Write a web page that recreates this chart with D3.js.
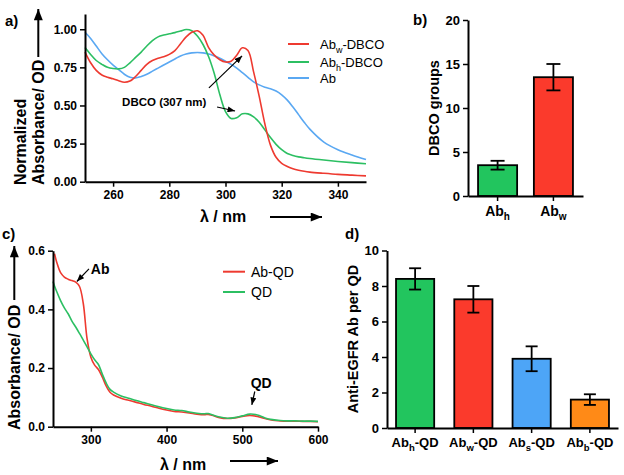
<!DOCTYPE html>
<html>
<head>
<meta charset="utf-8">
<script src="https://cdn.jsdelivr.net/npm/d3@7"></script>
<style>
  body { margin: 0; background: #fff; }
  svg { font-family: "Liberation Sans", Arial, sans-serif; }
</style>
</head>
<body>
<div class="canvas"></div>
<script>
// ---- data: panel a (normalized spectra) ----
const nmA = [250,252,254,256,258,260,262,264,266,268,270,272,274,276,278,280,282,284,286,288,290,
  292,294,296,298,300,302,304,306,308,310,312,314,316,318,320,322,324,326,328,330,335,340,345,350];
const abwDbco = [0.85,0.78,0.73,0.70,0.685,0.675,0.662,0.652,0.66,0.69,0.73,0.77,0.795,0.81,0.82,0.835,0.86,0.905,0.95,0.98,0.99,
  0.96,0.88,0.83,0.80,0.785,0.79,0.83,0.878,0.86,0.72,0.56,0.38,0.24,0.16,0.12,0.10,0.085,0.075,0.068,0.063,0.055,0.048,0.043,0.038];
const abhDbco = [0.88,0.835,0.795,0.77,0.75,0.742,0.74,0.75,0.78,0.815,0.85,0.89,0.925,0.95,0.962,0.97,0.978,0.988,0.998,0.99,0.955,
  0.90,0.82,0.71,0.57,0.46,0.415,0.42,0.445,0.445,0.425,0.39,0.34,0.29,0.245,0.21,0.185,0.172,0.163,0.157,0.152,0.142,0.133,0.125,0.118];
const abOnly = [0.98,0.94,0.89,0.84,0.80,0.765,0.735,0.705,0.685,0.68,0.69,0.705,0.725,0.745,0.765,0.785,0.805,0.825,0.838,0.845,0.847,
  0.845,0.838,0.825,0.81,0.79,0.77,0.745,0.715,0.685,0.655,0.635,0.62,0.61,0.595,0.57,0.535,0.49,0.44,0.39,0.345,0.26,0.21,0.175,0.145];
const seriesA = ['Ab_w-DBCO', 'Ab_h-DBCO', 'Ab'];
const ticksAx = [260, 280, 300, 320, 340];
const ticksAy = [0, 0.25, 0.5, 0.75, 1.0];

// ---- data: panel b (DBCO groups) ----
const catsB = ['Ab_h', 'Ab_w'];
const valsB = [3.5, 13.5];
const errB = [0.5, 1.5];
const ticksBy = [0, 5, 10, 15, 20];

// ---- data: panel c (Ab-QD vs QD absorbance) ----
const nmC = [250,252,255,260,265,270,275,280,285,290,295,300,305,310,315,320,325,330,340,350,360,370,380,390,400,
  410,420,430,440,450,455,460,470,480,490,500,510,520,530,540,550,560,570,580,590,600];
const abQd = [null,0.59,0.56,0.525,0.51,0.503,0.498,0.493,0.478,0.42,0.30,0.237,0.21,0.195,0.17,0.14,0.118,0.108,0.097,0.09,0.083,0.076,0.07,0.063,0.057,
  0.052,0.05,0.047,0.043,0.041,0.042,0.039,0.031,0.028,0.03,0.035,0.038,0.035,0.028,0.022,0.02,0.019,0.019,0.018,0.018,0.017];
const qdOnly = [0.495,0.48,0.46,0.43,0.405,0.385,0.36,0.34,0.318,0.295,0.272,0.248,0.228,0.212,0.18,0.15,0.128,0.118,0.105,0.097,0.089,0.082,0.075,0.068,0.062,
  0.057,0.055,0.05,0.046,0.044,0.045,0.041,0.033,0.029,0.031,0.037,0.043,0.04,0.03,0.024,0.021,0.02,0.02,0.019,0.019,0.018];
const seriesC = ['Ab-QD', 'QD'];
const ticksCx = [300, 400, 500, 600];
const ticksCy = [0, 0.2, 0.4, 0.6];

// ---- data: panel d (Ab per QD) ----
const catsD = ['Ab_h-QD', 'Ab_w-QD', 'Ab_s-QD', 'Ab_b-QD'];
const valsD = [8.4, 7.25, 3.9, 1.6];
const errD = [0.6, 0.75, 0.7, 0.3];
const ticksDy = [0, 2, 4, 6, 8, 10];

// colours
const RED = '#ee3a30', GREEN = '#2cbf62', BLUE = '#5aa8f2';
const barColsB = ['#22c55e', '#fb3a2c'];
const barColsD = ['#22c55e', '#fb3a2c', '#4da5f7', '#ff8a17'];

const FONT = '"Liberation Sans", Arial, sans-serif';

const svg = d3.select('.canvas')
  .append('svg')
    .attr('width', 624)
    .attr('height', 475);

svg.append('rect').attr('width', 624).attr('height', 475).attr('fill', '#fff');

// arrow markers
const defs = svg.append('defs');
defs.append('marker')
    .attr('id', 'head')
    .attr('viewBox', '0 -4 10 8')
    .attr('refX', 10).attr('refY', 0)
    .attr('markerUnits', 'userSpaceOnUse')
    .attr('markerWidth', 8).attr('markerHeight', 6)
    .attr('orient', 'auto')
  .append('path').attr('d', 'M0,-4L10,0L0,4Z').attr('fill', '#000');
defs.append('marker')
    .attr('id', 'bighead')
    .attr('viewBox', '0 -4 10 8')
    .attr('refX', 10).attr('refY', 0)
    .attr('markerUnits', 'userSpaceOnUse')
    .attr('markerWidth', 13).attr('markerHeight', 9)
    .attr('orient', 'auto')
  .append('path').attr('d', 'M0,-4L10,0L0,4Z').attr('fill', '#000');

// text with one subscript letter: "Ab_h-QD" -> Ab + sub h + -QD
function subText(sel, str, subSize) {
  const m = str.match(/^([^_]*)_(\w)(.*)$/);
  sel.text(null);
  if (!m) { sel.text(str); return; }
  sel.append('tspan').text(m[1]);
  sel.append('tspan').attr('dy', 4).attr('font-size', subSize).text(m[2]);
  if (m[3]) sel.append('tspan').attr('dy', -4).text(m[3]);
}

function styleAxis(g, size) {
  g.attr('font-family', FONT).attr('font-size', size).attr('font-weight', 'bold');
  g.select('.domain').attr('stroke-width', 2);
  g.selectAll('.tick line').attr('stroke-width', 1.5);
  g.selectAll('.tick text').attr('fill', '#000');
}

function label(x, y, txt, size, weight, anchor) {
  return svg.append('text')
    .attr('x', x).attr('y', y)
    .attr('font-size', size)
    .attr('font-weight', weight || 'bold')
    .attr('text-anchor', anchor || 'start')
    .text(txt);
}

function vLabel(x, y, txt, size, anchor) {
  return svg.append('text')
    .attr('transform', `translate(${x},${y}) rotate(-90)`)
    .attr('font-size', size)
    .attr('font-weight', 'bold')
    .attr('text-anchor', anchor || 'start')
    .text(txt);
}

function arrow(x1, y1, x2, y2, big, w) {
  svg.append('line')
    .attr('x1', x1).attr('y1', y1).attr('x2', x2).attr('y2', y2)
    .attr('stroke', '#000').attr('stroke-width', w || 1.2)
    .attr('marker-end', big ? 'url(#bighead)' : 'url(#head)');
}

// ================= panel a =================
const xA = d3.scaleLinear().domain([250, 350]).range([85, 366]);
const yA = d3.scaleLinear().domain([0, 1.1]).range([181.7, 14]);

const lineA = d3.line()
  .x((d, i) => xA(nmA[i]))
  .y(d => yA(d))
  .curve(d3.curveCatmullRom.alpha(0.5));

[[abOnly, BLUE], [abhDbco, GREEN], [abwDbco, RED]].forEach(([vals, c]) => {
  svg.append('path').datum(vals)
    .attr('d', lineA)
    .attr('fill', 'none').attr('stroke', c).attr('stroke-width', 1.6);
});

svg.append('g').attr('transform', 'translate(0,181.7)')
  .call(d3.axisBottom(xA).tickValues(ticksAx).tickSize(5).tickPadding(4).tickSizeOuter(0))
  .call(g => styleAxis(g, 12));
svg.append('g').attr('transform', 'translate(85,0)')
  .call(d3.axisLeft(yA).tickValues(ticksAy).tickFormat(d3.format('.2f')).tickSize(5).tickPadding(3).tickSizeOuter(0))
  .call(g => styleAxis(g, 12));

// legend a
[RED, GREEN, BLUE].forEach((c, i) => {
  const y = [44, 62, 78][i];
  svg.append('line').attr('x1', 288).attr('x2', 309).attr('y1', y).attr('y2', y)
    .attr('stroke', c).attr('stroke-width', 2);
  label(320, y + 5, '', 13, 'normal').call(t => subText(t, seriesA[i], 9));
});

// annotations a
label(xA(263.2), yA(0.497), 'DBCO (307 nm)', 11.5, 'bold');
arrow(xA(294.1), yA(0.615), xA(305.9), yA(0.825));
arrow(xA(297), yA(0.49), xA(303.4), yA(0.464));

label(5, 26, 'a)', 15);
vLabel(25.5, 185, 'Normalized', 16);
vLabel(44, 185, 'Absorbance/ OD', 16);
arrow(38.3, 57, 38.3, 9, true, 2);
label(200, 222, 'λ / nm', 16);
arrow(270, 217, 322, 217, true, 2);

// ================= panel b =================
const xB = d3.scaleBand().domain(catsB).range([468, 583]).paddingInner(0.3).paddingOuter(0.18);
const yB = d3.scaleLinear().domain([0, 20]).range([196, 20]);

svg.append('g').selectAll('rect')
  .data(valsB)
  .enter()
  .append('rect')
    .attr('x', (d, i) => xB(catsB[i]))
    .attr('y', d => yB(d))
    .attr('width', xB.bandwidth())
    .attr('height', d => yB(0) - yB(d))
    .attr('fill', (d, i) => barColsB[i])
    .attr('stroke', '#000').attr('stroke-width', 1.8);

function errorBars(vals, errs, cats, x, y, cap) {
  const g = svg.append('g').attr('stroke', '#000').attr('stroke-width', 1.8);
  vals.forEach((v, i) => {
    const cx = x(cats[i]) + x.bandwidth() / 2;
    g.append('line').attr('x1', cx).attr('x2', cx).attr('y1', y(v - errs[i])).attr('y2', y(v + errs[i]));
    [v - errs[i], v + errs[i]].forEach(e => {
      g.append('line').attr('x1', cx - cap).attr('x2', cx + cap).attr('y1', y(e)).attr('y2', y(e));
    });
  });
}
errorBars(valsB, errB, catsB, xB, yB, 7);

svg.append('g').attr('transform', 'translate(0,196)')
  .call(d3.axisBottom(xB).tickSize(5).tickPadding(5).tickSizeOuter(0))
  .call(g => styleAxis(g, 14))
  .call(g => g.selectAll('.tick text').each(function (d) { subText(d3.select(this), d, 10); }));
svg.append('g').attr('transform', 'translate(468,0)')
  .call(d3.axisLeft(yB).tickValues(ticksBy).tickSize(5).tickPadding(3).tickSizeOuter(0))
  .call(g => styleAxis(g, 13));

label(413, 25, 'b)', 15);
vLabel(439, 108, 'DBCO groups', 14.5, 'middle');

// ================= panel c =================
const xC = d3.scaleLinear().domain([250, 600]).range([53, 318]);
const yC = d3.scaleLinear().domain([0, 0.6]).range([426.7, 250.7]);

const lineC = d3.line()
  .defined(d => d != null)
  .x((d, i) => xC(nmC[i]))
  .y(d => yC(d))
  .curve(d3.curveCatmullRom.alpha(0.5));

[[abQd, RED], [qdOnly, GREEN]].forEach(([vals, c]) => {
  svg.append('path').datum(vals)
    .attr('d', lineC)
    .attr('fill', 'none').attr('stroke', c).attr('stroke-width', 1.6);
});

svg.append('g').attr('transform', 'translate(0,426.7)')
  .call(d3.axisBottom(xC).tickValues(ticksCx).tickSize(5).tickPadding(4).tickSizeOuter(0))
  .call(g => styleAxis(g, 12));
svg.append('g').attr('transform', 'translate(53,0)')
  .call(d3.axisLeft(yC).tickValues(ticksCy).tickFormat(d3.format('.1f')).tickSize(5).tickPadding(3).tickSizeOuter(0))
  .call(g => styleAxis(g, 12));

// legend c
[RED, GREEN].forEach((c, i) => {
  const y = [271.7, 292][i];
  svg.append('line').attr('x1', 223).attr('x2', 245).attr('y1', y).attr('y2', y)
    .attr('stroke', c).attr('stroke-width', 2);
  label(251, y + 5, seriesC[i], 14, 'normal');
});

// annotations c
label(xC(300), yC(0.52), 'Ab', 14);
arrow(xC(297.5), yC(0.538), xC(281.5), yC(0.495));
label(xC(525), yC(0.131), 'QD', 14, 'bold', 'middle');
arrow(xC(516.5), yC(0.12), xC(512.6), yC(0.074));

label(2, 239, 'c)', 15);
vLabel(20, 430, 'Absorbance/ OD', 16);
arrow(14.3, 300, 14.3, 246, true, 2);
label(160, 470, 'λ / nm', 16);
arrow(230, 461, 278, 461, true, 2);

// ================= panel d =================
const xD = d3.scaleBand().domain(catsD).range([387, 618]).paddingInner(0.345).paddingOuter(0.155);
const yD = d3.scaleLinear().domain([0, 10]).range([428, 250.5]);

svg.append('g').selectAll('rect')
  .data(valsD)
  .enter()
  .append('rect')
    .attr('x', (d, i) => xD(catsD[i]))
    .attr('y', d => yD(d))
    .attr('width', xD.bandwidth())
    .attr('height', d => yD(0) - yD(d))
    .attr('fill', (d, i) => barColsD[i])
    .attr('stroke', '#000').attr('stroke-width', 1.8);

errorBars(valsD, errD, catsD, xD, yD, 6);

svg.append('g').attr('transform', 'translate(0,428)')
  .call(d3.axisBottom(xD).tickSize(5).tickPadding(5).tickSizeOuter(0))
  .call(g => styleAxis(g, 13))
  .call(g => g.selectAll('.tick text').each(function (d) { subText(d3.select(this), d, 9.5); }));
svg.append('g').attr('transform', 'translate(387,0)')
  .call(d3.axisLeft(yD).tickValues(ticksDy).tickSize(5).tickPadding(3).tickSizeOuter(0))
  .call(g => styleAxis(g, 13));

label(345, 239, 'd)', 15);
vLabel(358, 339, 'Anti-EGFR Ab per QD', 14.5, 'middle');
</script>
</body>
</html>
